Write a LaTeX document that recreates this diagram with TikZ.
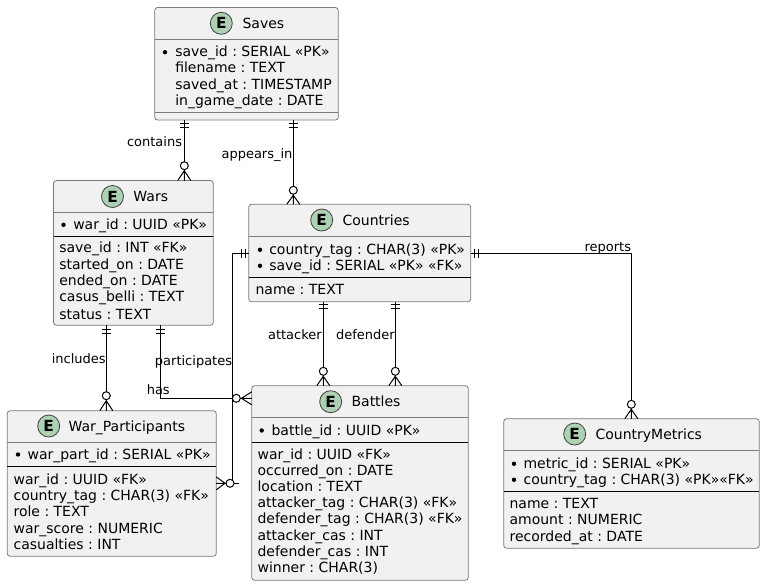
\documentclass[tikz,border=0pt]{standalone}
\usepackage{fontspec}
\setmainfont{DejaVu Sans}
\frenchspacing
\definecolor{boxfill}{HTML}{F1F1F1}
\definecolor{boxline}{HTML}{7A7A7A}
\definecolor{spotfill}{HTML}{ADD1B2}
\newcommand{\entbox}[5]{\node[entitybox,minimum width={(#4-#2)*0.75pt},minimum height={(#5-#3)*0.75pt}] (#1) at ({(#2+#4)/2},{(#3+#5)/2}) {};}
\newcommand{\hdrline}[2]{\draw[headline] (#1.west |- 0,#2) -- (#1.east |- 0,#2);}
\newcommand{\keyrule}[2]{\draw[keyline] (#1.west |- 0,#2) -- (#1.east |- 0,#2);}
\newcommand{\enthead}[6]{% name, circle x, circle y, text x, baseline, title
  \node[spot] (#1-spot) at (#2,#3) {E};
  \node[titletext] (#1-title) at (#4,#5) {#6};}
\newcommand{\attrow}[4]{\node[attrtext] (#1) at (#2,#3) {#4};}
\newcommand{\keyrow}[5]{\fill (#2,{#3-4.5}) circle[radius=2.2]; \node[attrtext] (#1) at (#4,#3) {#5};}
\newcommand{\barsV}[3]{\draw[conn] ({#1-4.5},#2) -- ({#1+4.5},#2) ({#1-4.5},#3) -- ({#1+4.5},#3);}
\newcommand{\barsH}[3]{\draw[conn] (#1,{#3-4.5}) -- (#1,{#3+4.5}) (#2,{#3-4.5}) -- (#2,{#3+4.5});}
\newcommand{\manyV}[3]{% x, circle y, box y
  \draw[conn] ({#1-6.5},#3) -- (#1,{#2+5}) -- ({#1+6.5},#3) (#1,{#2+5}) -- (#1,#3);
  \draw[conn,fill=white] (#1,#2) circle[radius=4];}
\newcommand{\manyH}[4]{% circle x, y, box x, apex x
  \draw[conn] (#3,{#2-6.5}) -- (#4,#2) -- (#3,{#2+6.5}) (#4,#2) -- (#3,#2);
  \draw[conn,fill=white] (#1,#2) circle[radius=4];}
\tikzset{
  entitybox/.style={draw=boxline,fill=boxfill,line width=0.6pt,rounded corners=2.2pt,inner sep=0pt,outer sep=0pt,rectangle},
  headline/.style={draw=boxline,line width=0.6pt},
  keyline/.style={draw=black,line width=0.75pt},
  spot/.style={circle,draw=black!75,fill=spotfill,line width=0.6pt,minimum size=16.5pt,inner sep=0pt,font=\fontsize{11.5}{12}\selectfont\bfseries},
  titletext/.style={anchor=base west,inner sep=0pt,font=\fontsize{10.5}{12}\selectfont},
  attrtext/.style={anchor=base west,inner sep=0pt,font=\fontsize{10.5}{12}\selectfont},
  linklabel/.style={inner sep=0pt,font=\fontsize{9.75}{12}\selectfont},
  conn/.style={draw=black,line width=0.75pt},
}
\begin{document}
\begin{tikzpicture}[x=0.75pt,y=-0.75pt]
\useasboundingbox (0,0) rectangle (765,586);
% entities
\entbox{saves}{154.7}{7.5}{338.3}{120}
\hdrline{saves}{39.5}\hdrline{saves}{112}
\enthead{saves}{221.3}{23.3}{242.3}{28.3}{Saves}
\keyrow{saves-a}{165}{56.7}{175}{save\_id : SERIAL «PK»}
\attrow{saves-b}{175}{72.7}{filename : TEXT}
\attrow{saves-c}{175}{89.3}{saved\_at : TIMESTAMP}
\attrow{saves-d}{175}{105.3}{in\_game\_date : DATE}

\entbox{wars}{53.5}{180.5}{213.3}{325.3}
\hdrline{wars}{212.5}\keyrule{wars}{236.5}
\enthead{wars}{112.5}{196.5}{133.2}{201.5}{Wars}
\keyrow{wars-a}{63.5}{229.3}{73}{war\_id : UUID «PK»}
\attrow{wars-b}{59}{252.7}{save\_id : INT «FK»}
\attrow{wars-c}{59}{269.3}{started\_on : DATE}
\attrow{wars-d}{59}{285.5}{ended\_on : DATE}
\attrow{wars-e}{59}{301.7}{casus\_belli : TEXT}
\attrow{wars-f}{59}{319}{status : TEXT}

\entbox{countries}{248.7}{204.3}{470.7}{301.7}
\hdrline{countries}{236.7}\keyrule{countries}{277}
\enthead{countries}{321.7}{220}{342.3}{225.3}{Countries}
\keyrow{countries-a}{260}{254.3}{269}{country\_tag : CHAR(3) «PK»}
\keyrow{countries-b}{260}{270.3}{269}{save\_id : SERIAL «PK» «FK»}
\attrow{countries-c}{255.3}{294.3}{name : TEXT}

\entbox{battles}{251.7}{385.7}{468.3}{580.3}
\hdrline{battles}{417.3}\keyrule{battles}{442.3}
\enthead{battles}{330.7}{401.7}{351.3}{406.7}{Battles}
\keyrow{battles-a}{261.7}{435}{271.3}{battle\_id : UUID «PK»}
\attrow{battles-b}{257.3}{459}{war\_id : UUID «FK»}
\attrow{battles-c}{257.3}{475.7}{occurred\_on : DATE}
\attrow{battles-d}{257.3}{491.7}{location : TEXT}
\attrow{battles-e}{257.3}{507.7}{attacker\_tag : CHAR(3) «FK»}
\attrow{battles-f}{257.3}{523.7}{defender\_tag : CHAR(3) «FK»}
\attrow{battles-g}{257.3}{540.3}{attacker\_cas : INT}
\attrow{battles-h}{257.3}{556.3}{defender\_cas : INT}
\attrow{battles-i}{257.3}{572.3}{winner : CHAR(3)}

\entbox{warp}{7.3}{410.7}{216.3}{556.3}
\hdrline{warp}{442.3}\keyrule{warp}{466.3}
\enthead{warp}{48.7}{426}{68.3}{431}{War\_Participants}
\keyrow{warp-a}{18}{459}{27.3}{war\_part\_id : SERIAL «PK»}
\attrow{warp-b}{13.3}{484}{war\_id : UUID «FK»}
\attrow{warp-c}{13.3}{500.3}{country\_tag : CHAR(3) «FK»}
\attrow{warp-d}{13.3}{516.3}{role : TEXT}
\attrow{warp-e}{13.3}{533}{war\_score : NUMERIC}
\attrow{warp-f}{13.3}{549}{casualties : INT}

\entbox{metrics}{503.7}{418.7}{759.3}{548.3}
\hdrline{metrics}{450.3}\keyrule{metrics}{491.3}
\enthead{metrics}{574.7}{434}{595.3}{439}{CountryMetrics}
\keyrow{metrics-a}{514}{468.3}{523.3}{metric\_id : SERIAL «PK»}
\keyrow{metrics-b}{514}{484.3}{523.3}{country\_tag : CHAR(3) «PK»«FK»}
\attrow{metrics-c}{509.3}{508.3}{name : TEXT}
\attrow{metrics-d}{509.3}{524.3}{amount : NUMERIC}
\attrow{metrics-e}{509.3}{541}{recorded\_at : DATE}

% connectors
\draw[conn] (saves.south -| 184.3,0) -- (wars.north -| 184.3,0);
\barsV{184.3}{123.3}{127.3}\manyV{184.3}{165.7}{180.5}
\draw[conn] (saves.south -| 293.3,0) -- (countries.north -| 293.3,0);
\barsV{293.3}{123.3}{127.3}\manyV{293.3}{190.3}{204.3}
\draw[conn] (wars.south -| 106.3,0) -- (warp.north -| 106.3,0);
\barsV{106.3}{329}{333}\manyV{106.3}{395.7}{410.7}
\draw[conn] (wars.south -| 160.7,0) |- (battles.west |- 0,398.3);
\barsV{160.7}{329}{333}\manyH{236.3}{398.3}{251.7}{241.5}
\draw[conn] (countries.south -| 323.3,0) -- (battles.north -| 323.3,0);
\barsV{323.3}{304.5}{308.5}\manyV{323.3}{371.3}{385.7}
\draw[conn] (countries.south -| 395.3,0) -- (battles.north -| 395.3,0);
\barsV{395.3}{304.5}{308.5}\manyV{395.3}{371.3}{385.7}
\coordinate (bend) at (232.3,483.3);
\coordinate (stub) at (238.7,483.3);
\draw[conn] (countries.west |- 0,253.3) -| (bend);
\draw[conn] (stub) -- (warp.east |- 0,483.3);
\barsH{241}{245}{253.3}\manyH{230}{483.3}{216.3}{225}
\draw[conn] (countries.east |- 0,253.3) -| (metrics.north -| 631.3,0);
\barsH{474.5}{478}{253.3}\manyV{631.3}{404.3}{418.7}
% labels
\node[linklabel,anchor=base east] (l-contains) at (182.3,146) {contains};
\node[linklabel,anchor=base east] (l-appears) at (292.7,158) {appears\_in};
\node[linklabel,anchor=base east] (l-includes) at (106,363.5) {includes};
\node[linklabel,anchor=base west] (l-part) at (154.7,365) {participates};
\node[linklabel,anchor=base west] (l-has) at (146.5,394.5) {has};
\node[linklabel,anchor=base east] (l-attacker) at (322,339.5) {attacker};
\node[linklabel,anchor=base east] (l-defender) at (395,339.5) {defender};
\node[linklabel,anchor=base east] (l-reports) at (631.3,251) {reports};
\end{tikzpicture}
\end{document}
